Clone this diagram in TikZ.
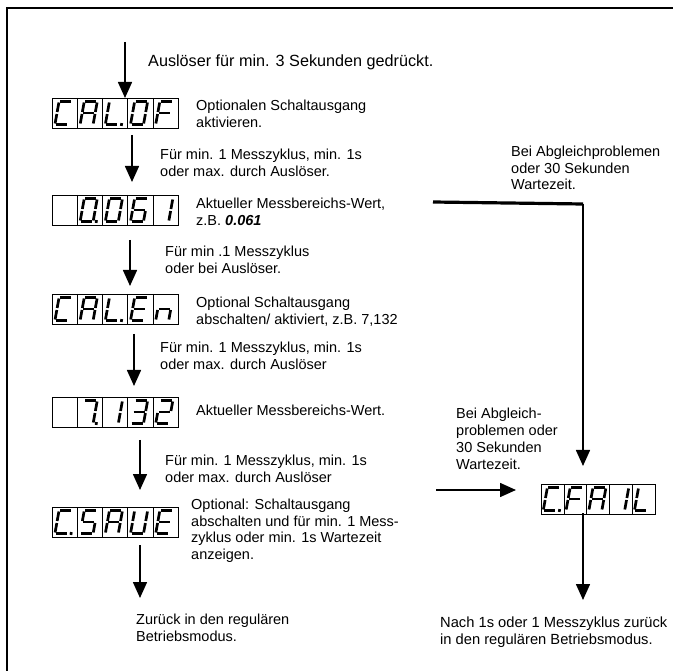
\documentclass[tikz,border=0pt]{standalone}
\usepackage{fontspec}
\setmainfont{Liberation Sans}
\usetikzlibrary{arrows.meta}
\newcommand\digit[3]{%
 \begin{scope}[shift={({#1},{#2})}, xslant=0.18]
  \coordinate (a1) at (1.0,0);   \coordinate (a2) at (12.0,0);
  \coordinate (b1) at (13,1.0);  \coordinate (b2) at (13,10.5);
  \coordinate (c1) at (13,12.5); \coordinate (c2) at (13,22.0);
  \coordinate (d1) at (1.0,23);  \coordinate (d2) at (12.0,23);
  \coordinate (e1) at (0,12.5);  \coordinate (e2) at (0,22.0);
  \coordinate (f1) at (0,1.0);   \coordinate (f2) at (0,10.5);
  \coordinate (g1) at (1.0,11.5);  \coordinate (g2) at (12.0,11.5);
  \coordinate (p1) at (16.2,21.6); \coordinate (p2) at (16.2,24.4);
  \foreach \s in {#3} {\draw[segline] (\s1) -- (\s2);}
 \end{scope}}
\newcommand\display[4]{%
 \node[disp, minimum width={5*#4pt}] (#1) at (#2,#3) {};
 \foreach \i in {1,...,4} \draw[cellline] ({#2+\i*#4},#3) -- ++(0,30);
 \def\dx{#2}\def\dy{#3}\def\dw{#4}}
\newcommand\dg[2]{\digit{\dx+#1*\dw+\dw*0.28}{\dy+3.5}{#2}}
\begin{document}
\begin{tikzpicture}[x=1pt,y=-1pt,
 txt/.style={anchor=base west, inner sep=0pt, align=left, font=\fontsize{14.5}{16.7}\selectfont},
 arr/.style={line width=1.6pt, -{Triangle[width=14pt,length=16pt]}},
 disp/.style={draw, line width=0.9pt, anchor=north west, minimum height=30pt, inner sep=0pt},
 cellline/.style={line width=0.6pt},
 segline/.style={line width=2.7pt},
 frame/.style={line width=2pt},
 thickline/.style={line width=3.2pt}]
\useasboundingbox (0,0) rectangle (673,671);
\draw[frame] (7,671) -- (7,8) -- (673,8);

% displays
\display{D1}{52}{98}{25.2}
\dg{0}{a,d,e,f}\dg{1}{a,b,c,e,f,g}\dg{2}{d,e,f,p}\dg{3}{a,b,c,d,e,f}\dg{4}{a,e,f,g}
\display{D2}{52}{195}{25.2}
\dg{1}{a,b,c,d,e,f,p}\dg{2}{a,b,c,d,e,f}\dg{3}{a,c,d,e,f,g}\dg{4}{b,c}
\display{D3}{52}{294}{25.2}
\dg{0}{a,d,e,f}\dg{1}{a,b,c,e,f,g}\dg{2}{d,e,f,p}\dg{3}{a,d,e,f,g}\dg{4}{c,e,g}
\display{D4}{52}{397}{25.2}
\dg{1}{a,b,c,p}\dg{2}{b,c}\dg{3}{a,b,c,d,g}\dg{4}{a,b,d,e,g}
\display{D5}{52}{507}{25.2}
\dg{0}{a,d,e,f,p}\dg{1}{a,c,d,f,g}\dg{2}{a,b,c,e,f,g}\dg{3}{b,c,d,e,f}\dg{4}{a,d,e,f,g}
\display{D6}{541}{484}{22.8}
\dg{0}{a,d,e,f,p}\dg{1}{a,e,f,g}\dg{2}{a,b,c,e,f,g}\dg{3}{b,c}\dg{4}{d,e,f}

% arrow end points
\coordinate (s0) at (125,42);  \coordinate (e0) at (125,98);
\coordinate (s1) at (132,135); \coordinate (e1) at (132,182);
\coordinate (s2) at (130,240); \coordinate (e2) at (130,286);
\coordinate (s3) at (134,334); \coordinate (e3) at (134,386);
\coordinate (s4) at (140,440); \coordinate (e4) at (140,490);
\coordinate (s5) at (140,545); \coordinate (e5) at (140,598);
\coordinate (r0) at (433,202); \coordinate (r1) at (583,204);
\coordinate (r2) at (583,466);
\coordinate (h0) at (436,490); \coordinate (h1) at (516,490);
\coordinate (f0) at (583,513); \coordinate (f1) at (583,600);

\draw[arr] (s0) -- (e0);
\draw[arr] (s1) -- (e1);
\draw[arr] (s2) -- (e2);
\draw[arr] (s3) -- (e3);
\draw[arr] (s4) -- (e4);
\draw[arr] (s5) -- (e5);
\draw[thickline] (r0) -- (r1);
\draw[arr] (r1) -- (r2);
\draw[arr] (h0) -- (h1);
\draw[arr] (f0) -- (f1);

% texts (anchor = baseline of the last line)
\node[txt, font=\fontsize{16.2}{18}\selectfont] (t0) at (148,67) {Auslöser für min. 3 Sekunden gedrückt.};
\node[txt] (t1) at (196,127.5) {Optionalen Schaltausgang\\aktivieren.};
\node[txt] (t2) at (160,176.5) {Für min. 1 Messzyklus, min. 1s\\oder max. durch Auslöser.};
\node[txt] (t3) at (196,225.5) {Aktueller Messbereichs-Wert,\\z.B. \textbf{\textit{0.061}}};
\node[txt] (t4) at (165,273.5) {Für min .1 Messzyklus\\oder bei Auslöser.};
\node[txt] (t5) at (196,324.5) {Optional Schaltausgang\\abschalten/ aktiviert, z.B. 7,132};
\node[txt] (t6) at (160,369.5) {Für min. 1 Messzyklus, min. 1s\\oder max. durch Auslöser};
\node[txt] (t7) at (196,416) {Aktueller Messbereichs-Wert.};
\node[txt] (t8) at (165,482.5) {Für min. 1 Messzyklus, min. 1s\\oder max. durch Auslöser};
\node[txt] (t9) at (191,559.5) {Optional: Schaltausgang\\abschalten und für min. 1 Mess-\\zyklus oder min. 1s Wartezeit\\anzeigen.};
\node[txt] (t10) at (136,641.5) {Zurück in den regulären\\Betriebsmodus.};
\node[txt] (t11) at (511,190) {Bei Abgleichproblemen\\oder 30 Sekunden\\Wartezeit.};
\node[txt] (t12) at (456,469) {Bei Abgleich-\\problemen oder\\30 Sekunden\\Wartezeit.};
\node[txt, font=\fontsize{14.7}{16.7}\selectfont] (t13) at (440,644.5) {Nach 1s oder 1 Messzyklus zurück\\in den regulären Betriebsmodus.};
\end{tikzpicture}
\end{document}
